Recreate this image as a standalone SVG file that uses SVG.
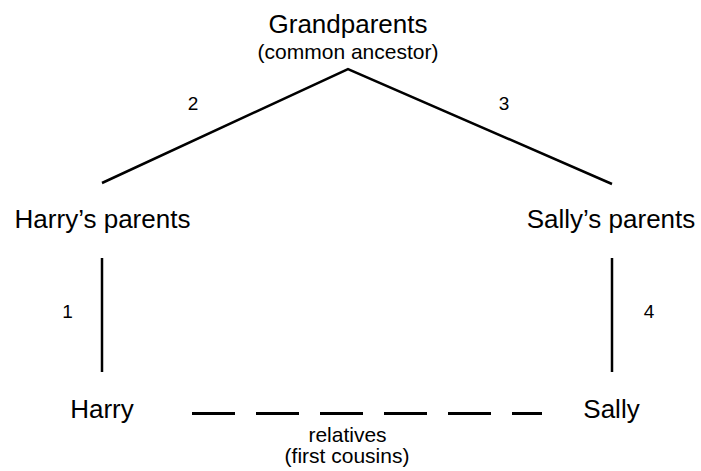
<svg xmlns="http://www.w3.org/2000/svg" width="701" height="471" viewBox="0 0 701 471">
  <style>
    text { font-family: "Liberation Sans", Arial, sans-serif; fill: #000; text-anchor: middle; }
    .name { font-size: 26px; }
    .note { font-size: 21px; }
    .num { font-size: 19px; }
    .link { stroke: #000; stroke-width: 2.5; fill: none; }
    .kin { stroke: #000; stroke-width: 3; fill: none; stroke-dasharray: 43 21; }
  </style>
  <rect width="701" height="471" fill="#fff"/>

  <!-- connectors: descent lines and the cousin relation -->
  <g id="connectors">
    <path class="link" d="M102,183 L348,69 L612,184"/>
    <line class="link" x1="102" y1="258" x2="102" y2="372"/>
    <line class="link" x1="612" y1="258" x2="612" y2="372"/>
    <line class="kin" x1="192" y1="413.5" x2="542" y2="413.5"/>
    <text class="num" x="193" y="110">2</text>
    <text class="num" x="504" y="110">3</text>
    <text class="num" x="67.5" y="318">1</text>
    <text class="num" x="649" y="318">4</text>
    <text class="note" x="347.5" y="442">relatives</text>
    <text class="note" x="347" y="463">(first cousins)</text>
  </g>

  <g id="grandparents">
    <text class="name" x="348" y="33">Grandparents</text>
    <text class="note" x="348" y="59">(common ancestor)</text>
  </g>
  <g id="harrys-parents">
    <text class="name" x="102.5" y="228">Harry’s parents</text>
  </g>
  <g id="sallys-parents">
    <text class="name" x="611" y="228">Sally’s parents</text>
  </g>
  <g id="harry">
    <text class="name" x="102" y="418">Harry</text>
  </g>
  <g id="sally">
    <text class="name" x="611.5" y="418">Sally</text>
  </g>
</svg>
